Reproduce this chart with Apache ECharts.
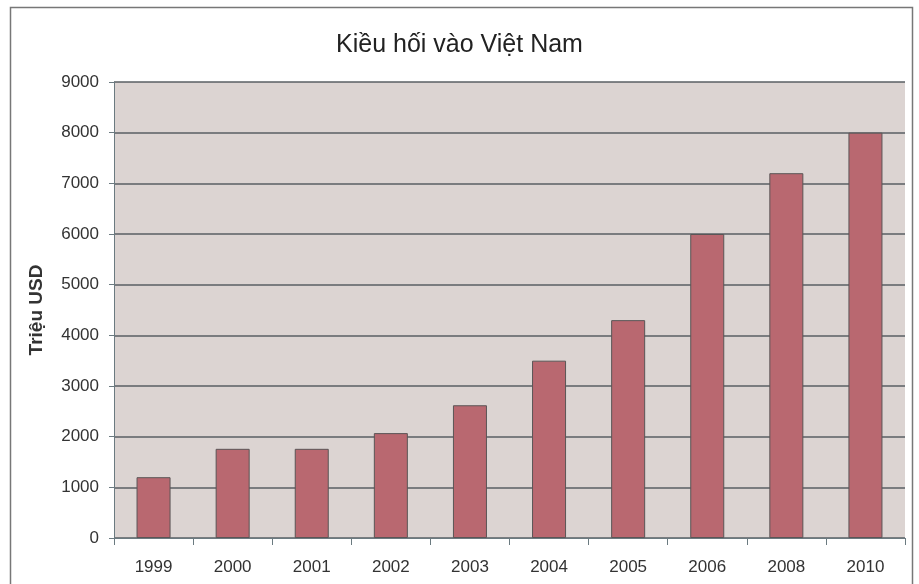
<!DOCTYPE html>
<html>
<head>
<meta charset="utf-8">
<script src="https://cdn.jsdelivr.net/npm/echarts@6/dist/echarts.min.js"></script>
<style>
  html, body { margin: 0; padding: 0; background: #fff; }
  #chart { width: 919px; height: 584px; }
</style>
</head>
<body>
<div id="chart"></div>
<script>
// số liệu kiều hối (triệu USD)
var years = ['1999', '2000', '2001', '2002', '2003', '2004', '2005', '2006', '2008', '2010'];
var remittances = [1200, 1760, 1760, 2070, 2620, 3500, 4300, 6000, 7200, 8000];

var myChart = echarts.init(document.getElementById('chart'));
var option = {
    animation: false,
    title: {
        text: 'Kiều hối vào Việt Nam',
        left: 'center',
        top: 28,
        textStyle: { fontFamily: 'Liberation Sans', fontSize: 25, fontWeight: 'normal', color: '#222' }
    },
    graphic: [{
        type: 'rect',
        shape: { x: 10.5, y: 7.5, width: 902, height: 590 },
        style: { fill: 'none', stroke: '#777', lineWidth: 1.5 },
        silent: true
    }],
    grid: { left: 114, right: 14, top: 82, bottom: 46, backgroundColor: '#dcd4d2', show: true, borderWidth: 0 },
    xAxis: {
        type: 'category',
        data: years,
        axisLine: { lineStyle: { color: '#6b7a80', width: 1 } },
        axisTick: { show: true, length: 7, lineStyle: { color: '#6b7a80' } },
        axisLabel: { color: '#333', fontFamily: 'Liberation Sans', fontSize: 17, margin: 21 }
    },
    yAxis: {
        type: 'value',
        min: 0,
        max: 9000,
        interval: 1000,
        name: 'Triệu USD',
        nameLocation: 'middle',
        nameGap: 68,
        nameTextStyle: { fontFamily: 'Liberation Sans', fontSize: 19, fontWeight: 'bold', color: '#333' },
        axisLine: { show: true, lineStyle: { color: '#6b7a80', width: 1 } },
        axisTick: { show: true, length: 5, lineStyle: { color: '#6b7a80' } },
        axisLabel: {
            color: '#333', fontFamily: 'Liberation Sans', fontSize: 17, margin: 15,
            formatter: function (v) { return String(v); }
        },
        splitLine: { lineStyle: { color: '#5a5f63', width: 1.5 } }
    },
    series: [{
        type: 'bar',
        data: remittances,
        barWidth: '43%',
        itemStyle: { color: '#b96870', borderColor: '#5a5556', borderWidth: 1 }
    }]
};
option && myChart.setOption(option);
</script>
</body>
</html>
